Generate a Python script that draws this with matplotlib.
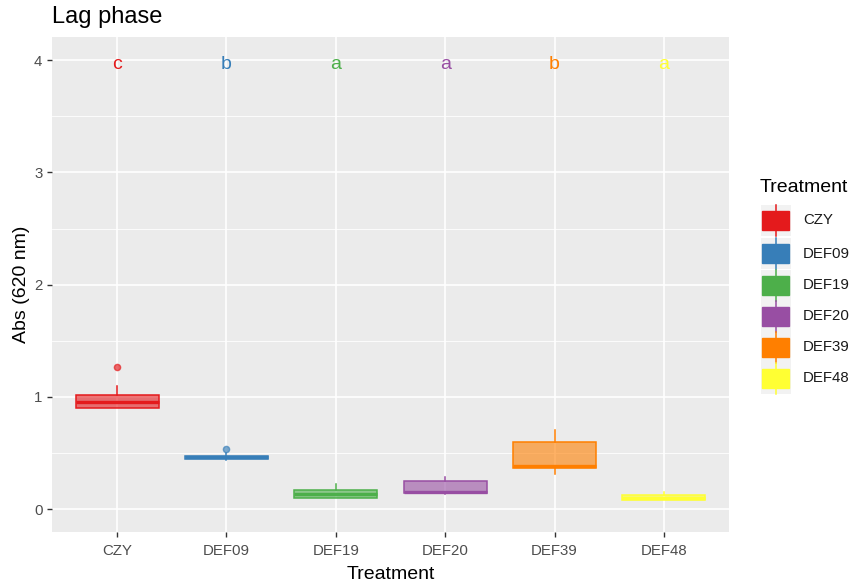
import matplotlib
matplotlib.use("Agg")
import matplotlib.pyplot as plt
from matplotlib.patches import Rectangle
from matplotlib.transforms import offset_copy

plt.rcParams['font.family'] = ['Liberation Sans', 'DejaVu Sans']

# Summary statistics per treatment
treatments = ["CZY", "DEF09", "DEF19", "DEF20", "DEF39", "DEF48"]
whisker_low = [0.902, 0.437, 0.098, 0.130, 0.315, 0.083]
quartile1 = [0.902, 0.445, 0.098, 0.145, 0.365, 0.083]
medians = [0.950, 0.460, 0.134, 0.154, 0.380, 0.100]
quartile3 = [1.016, 0.475, 0.172, 0.247, 0.597, 0.127]
whisker_high = [1.098, 0.500, 0.226, 0.285, 0.704, 0.149]
outliers = [[1.268], [0.534], [], [], [], []]
letters = ["c", "b", "a", "a", "b", "a"]
letter_y = 4
colors = ["#E41A1C", "#377EB8", "#4DAF4A", "#984EA3", "#FF7F00", "#FFFF33"]

fig = plt.figure(figsize=(8.56, 5.88), dpi=100)
fig.patch.set_facecolor("white")
ax = fig.add_axes([51.5 / 856, 1 - 531.7 / 588, (729.5 - 51.5) / 856, (531.7 - 36.7) / 588])
ax.set_facecolor("#EBEBEB")

positions = list(range(1, len(treatments) + 1))
ax.set_xlim(0.4, len(treatments) + 0.6)
ax.set_ylim(-0.202, 4.21)

# grid
for y in [0.5, 1.5, 2.5, 3.5]:
    ax.axhline(y, color="white", lw=0.6, zorder=0)
for y in [0, 1, 2, 3, 4]:
    ax.axhline(y, color="white", lw=1.2, zorder=0)
for x in positions:
    ax.axvline(x, color="white", lw=1.2, zorder=0)

letter_trans = offset_copy(ax.transData, fig=fig, x=0, y=-8.7, units="dots")

for i, pos in enumerate(positions):
    stats = [dict(whislo=whisker_low[i], q1=quartile1[i], med=medians[i],
                  q3=quartile3[i], whishi=whisker_high[i], fliers=outliers[i])]
    c = colors[i]
    bp = ax.bxp(stats, positions=[pos], widths=0.76, patch_artist=True,
                showcaps=False, manage_ticks=False,
                boxprops=dict(facecolor=c, edgecolor=c, linewidth=1.1),
                whiskerprops=dict(color=c, linewidth=1.1),
                medianprops=dict(color=c, linewidth=2.4),
                flierprops=dict(marker="o", markerfacecolor=c, markeredgecolor=c,
                                markersize=4.5, alpha=0.65))
    for b in bp["boxes"]:
        b.set_facecolor(matplotlib.colors.to_rgba(c, 0.6))
        b.set_zorder(3)
    for m in bp["medians"]:
        m.set_zorder(4)
    ax.text(pos, letter_y, letters[i], color=c, fontsize=14, ha="center",
            va="baseline", transform=letter_trans, zorder=5)

ax.set_xticks(positions)
ax.set_xticklabels(treatments)
ax.set_yticks([0, 1, 2, 3, 4])
ax.set_yticklabels(["0", "1", "2", "3", "4"])
ax.tick_params(axis="both", colors="#333333", length=3.5, width=1.0,
               labelsize=10.8, labelcolor="#4D4D4D", pad=3)
ax.tick_params(axis="x", pad=5)
for s in ax.spines.values():
    s.set_visible(False)

ax.set_xlabel("Treatment", fontsize=14, labelpad=6)
ax.set_ylabel("Abs (620 nm)", fontsize=14, labelpad=3)
fig.text(51.5 / 856, 1 - 17 / 588, "Lag phase", fontsize=17, ha="left", va="center")

# legend drawn in pixel coordinates
lax = fig.add_axes([0, 0, 1, 1], zorder=10)
lax.set_xlim(0, 856)
lax.set_ylim(588, 0)
lax.axis("off")
lax.text(760, 188, "Treatment", fontsize=14, ha="left", va="center")
key_centers = [220, 253.5, 285, 316, 347, 378]
for i, name in enumerate(treatments):
    yc = key_centers[i]
    c = colors[i]
    lax.add_patch(Rectangle((761, yc - 15.5), 30, 31, facecolor="#F2F2F2", edgecolor="none"))
    lax.plot([776, 776], [yc - 15.5, yc + 15.5], color=c, lw=1.1)
    lax.add_patch(Rectangle((762.5, yc - 9.5), 27, 19, facecolor=c, edgecolor=c, lw=1.0))
    lax.text(803, yc, name, fontsize=10.8, ha="left", va="center", color="#1A1A1A")

fig.savefig("out.png", dpi=100)
